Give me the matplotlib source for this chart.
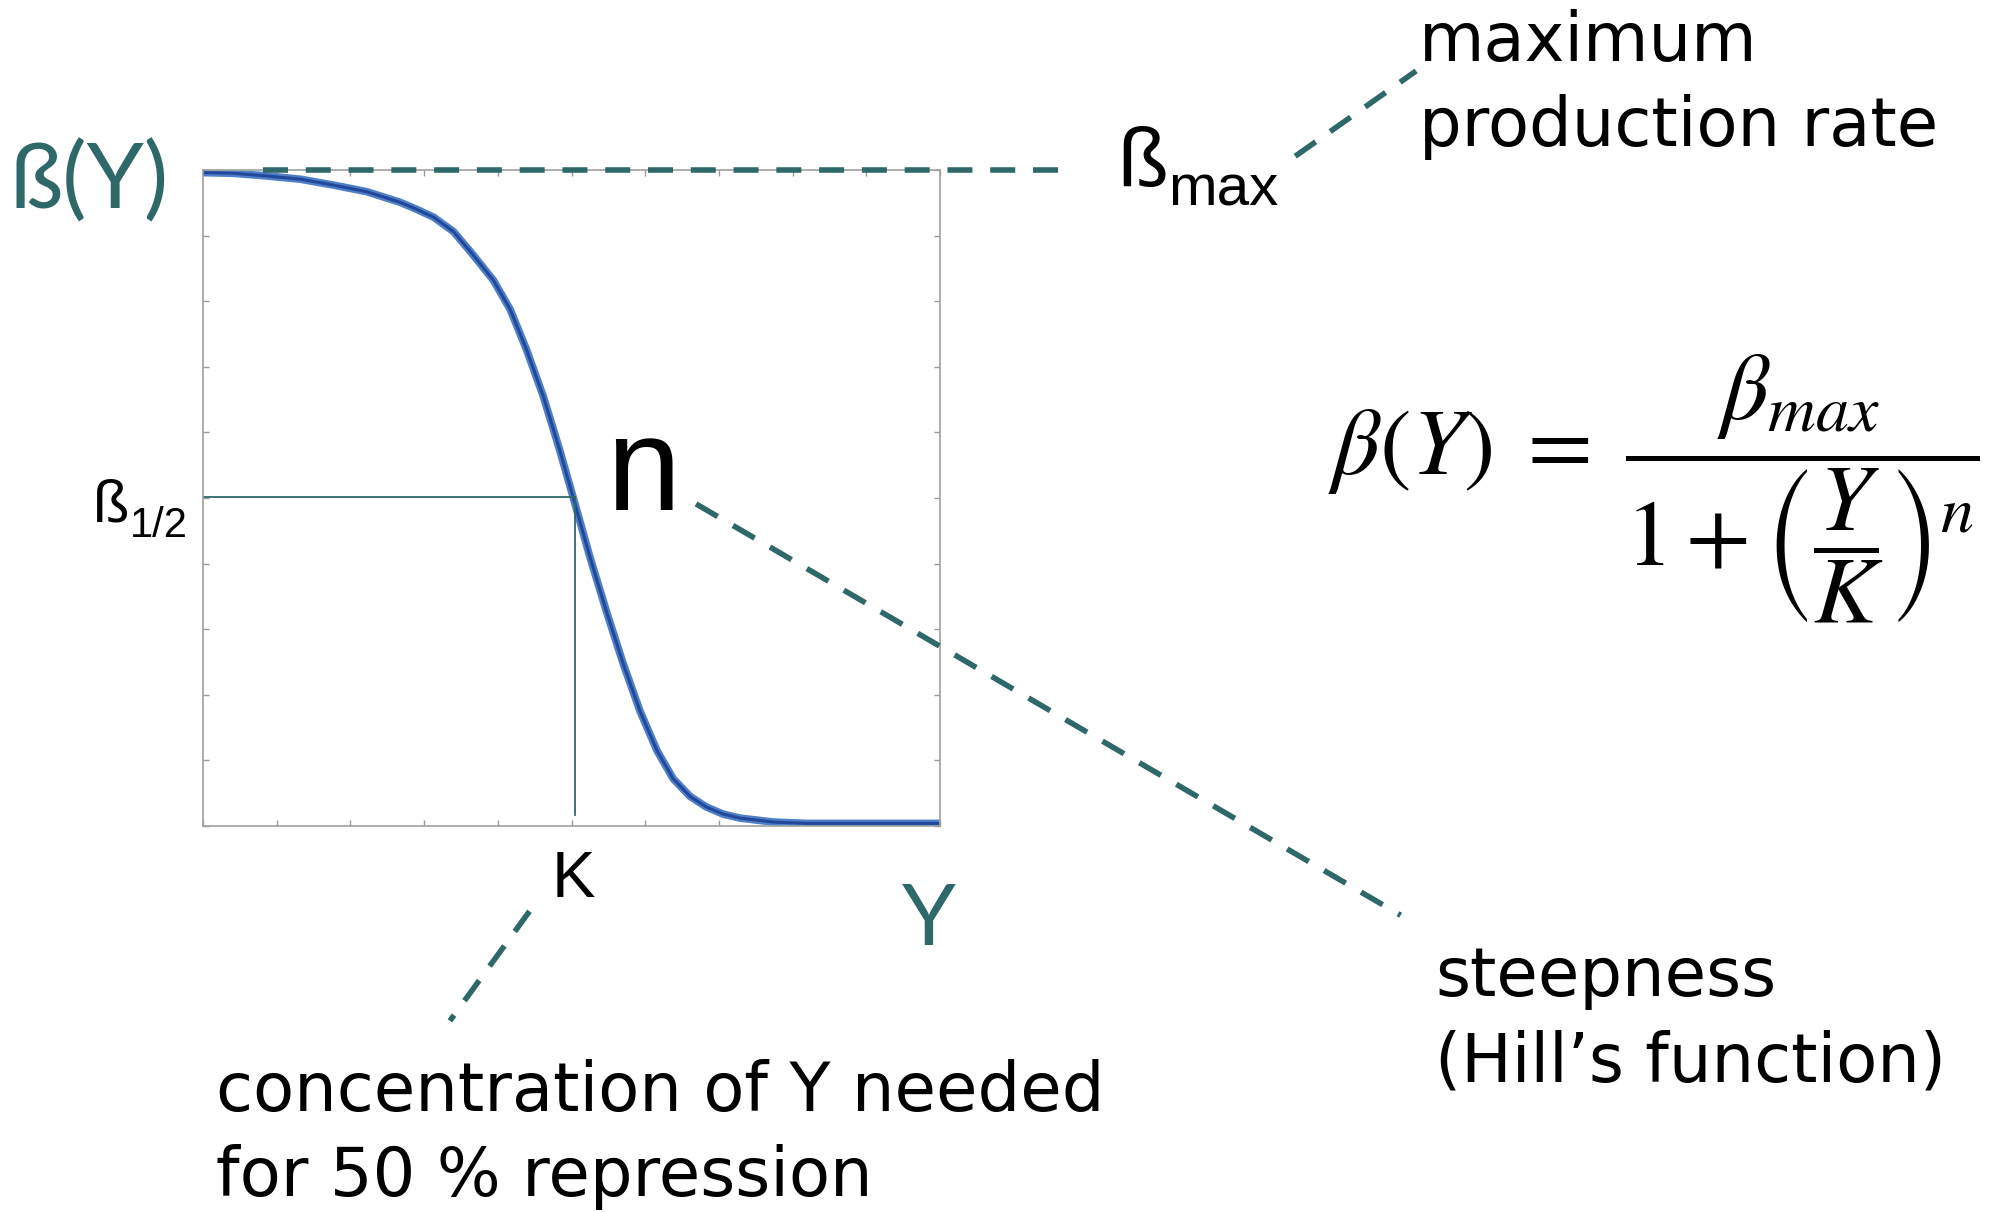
import numpy as np
import matplotlib.pyplot as plt

# curve (Y relative to axis width, beta relative to beta_max)
y_conc = [0.000, 0.041, 0.086, 0.132, 0.177, 0.222, 0.267, 0.290, 0.313, 0.340,
          0.364, 0.394, 0.417, 0.439, 0.462, 0.484, 0.502, 0.525, 0.548, 0.570,
          0.593, 0.616, 0.638, 0.661, 0.683, 0.706, 0.729, 0.774, 0.819, 0.900, 1.000]
beta = [0.996, 0.995, 0.991, 0.986, 0.977, 0.967, 0.951, 0.940, 0.928, 0.906,
        0.874, 0.832, 0.787, 0.726, 0.654, 0.573, 0.502, 0.410, 0.325, 0.248,
        0.175, 0.115, 0.072, 0.045, 0.029, 0.018, 0.012, 0.006, 0.004, 0.004, 0.004]
K = 0.505
beta_half = 0.502
beta_max = 1.0

teal = '#2f6868'
W, H = 1995, 1212

plt.rcParams['mathtext.fontset'] = 'stix'

fig = plt.figure(figsize=(W / 100, H / 100), dpi=100)
ax = fig.add_axes([203 / W, 1 - 826 / H, 737 / W, 656 / H])
ax.set_xlim(0, 1)
ax.set_ylim(0, 1)
ax.set_xticks(np.linspace(0, 1, 11))
ax.set_yticks(np.linspace(0, 1, 11))
ax.set_xticklabels([])
ax.set_yticklabels([])
ax.tick_params(direction='in', length=4, width=1, color='#9a9a9a',
               top=True, right=True)
for s in ax.spines.values():
    s.set_color('#a0a0a0')
    s.set_linewidth(1.2)

ax.plot(y_conc, beta, color='#4f7fc6', lw=5.5, solid_capstyle='butt',
        solid_joinstyle='round')
ax.plot(y_conc, beta, color='#21489a', lw=2.2, solid_joinstyle='round')

# guide lines at K / beta_1/2
ax.plot([0, K], [beta_half, beta_half], color=teal, lw=1.3)
ax.plot([K, K], [beta_half, 0.017], color=teal, lw=1.3)

dash = dict(color=teal, lw=4, dashes=(4.5, 3.2), clip_on=False, zorder=4)
ax.plot([0.082, 1.172], [beta_max, beta_max], **dash)
ax.plot([1.482, 1.646], [1.021, 1.151], **dash)
ax.plot([0.669, 1.625], [0.491, -0.136], **dash)
ax.plot([0.443, 0.335], [-0.130, -0.297], **dash)


def ftext(x, y, s, **kw):
    fig.text(x / W, 1 - y / H, s, **kw)


ftext(10, 209, 'ß(Y)', color=teal, fontsize=66, family='Lato', va='baseline')
ftext(929, 945, 'Y', color=teal, fontsize=62, family='Lato',
      va='baseline', ha='center')

ftext(1117, 187, 'ß', fontsize=60, family='Liberation Sans', va='baseline')
ftext(1168, 206, 'max', fontsize=42, family='Liberation Sans', va='baseline')
ftext(93, 521, 'ß', fontsize=43, family='Liberation Sans', va='baseline')
ftext(130, 537, '1/2', fontsize=30, family='Liberation Sans', va='baseline')
ftext(573, 897, 'K', fontsize=47, family='Liberation Sans', va='baseline', ha='center')
ftext(643, 510, 'n', fontsize=96, family='Liberation Sans', va='baseline', ha='center')

body = dict(fontsize=48.4, family='DejaVu Sans', va='baseline', linespacing=1.36)
ftext(1419, 146, 'maximum\nproduction rate', **body)
ftext(1435, 1081, 'steepness\n(Hill\u2019s function)', **body)
ftext(216, 1196, 'concentration of Y needed\nfor 50 % repression', **body)

ftext(1328, 489,
      r'$\beta(Y)\;=\;\dfrac{\beta_{max}}{1+\left(\dfrac{Y}{K}\right)^{n}}$',
      fontsize=68, va='center', ha='left')

fig.savefig('out.png', dpi=100)
